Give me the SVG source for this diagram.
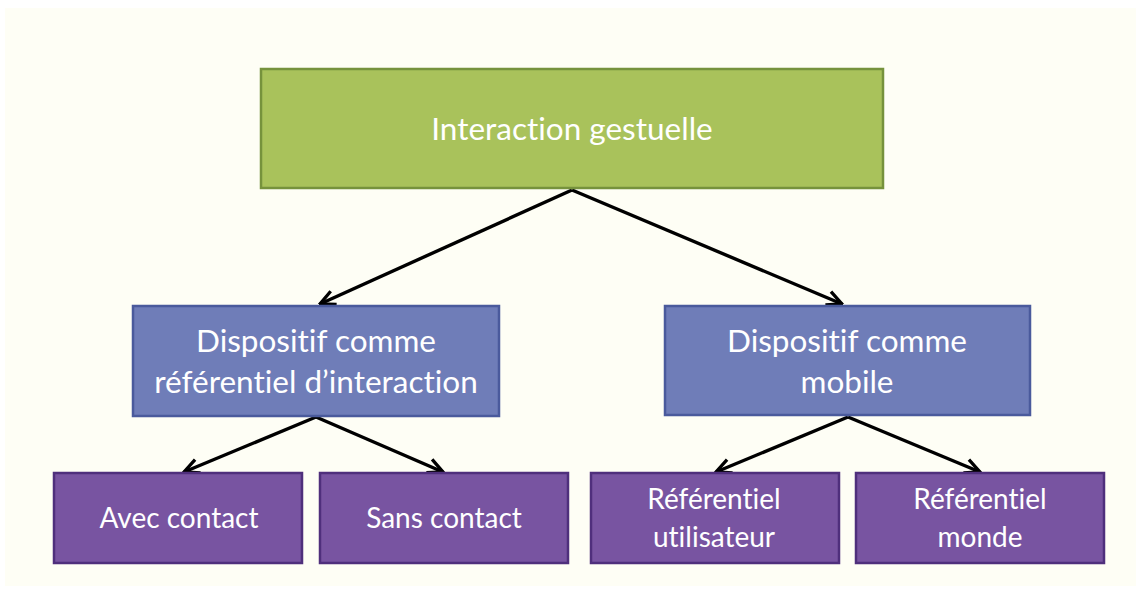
<svg xmlns="http://www.w3.org/2000/svg" width="1136" height="590" viewBox="0 0 1136 590">
<style>
.bg{fill:#FEFEF5}
.g{fill:#A9C25B;stroke:#76923C;stroke-width:2.5}
.b{fill:#6F7DB8;stroke:#4A5A9C;stroke-width:2.5}
.p{fill:#7854A1;stroke:#4F2F7C;stroke-width:2.5}
text{font-family:Lato,"Open Sans",sans-serif;fill:#FFFFFF;text-anchor:middle;font-variant-ligatures:none}
.t1{font-size:31.5px}
.t2{font-size:31.5px}
.t3{font-size:28px}
.c{stroke:#000;stroke-width:3.4;fill:none}
</style>
<defs>
<marker id="ah" viewBox="0 0 12 12" refX="11" refY="6" markerWidth="18" markerHeight="18" markerUnits="userSpaceOnUse" orient="auto">
<path d="M1,1.2 L11,6 L1,10.8" fill="none" stroke="#000" stroke-width="2.2"/>
</marker>
</defs>
<rect class="bg" x="5" y="8" width="1131" height="578"/>
<g id="connectors">
<line class="c" x1="572" y1="190" x2="320" y2="304" marker-end="url(#ah)"/>
<line class="c" x1="572" y1="190" x2="842" y2="304" marker-end="url(#ah)"/>
<line class="c" x1="316" y1="417" x2="184" y2="472" marker-end="url(#ah)"/>
<line class="c" x1="316" y1="417" x2="443" y2="472" marker-end="url(#ah)"/>
<line class="c" x1="848" y1="417" x2="716" y2="472" marker-end="url(#ah)"/>
<line class="c" x1="848" y1="417" x2="980" y2="472" marker-end="url(#ah)"/>
</g>
<g id="node-root">
<rect class="g" x="261" y="69" width="622" height="119"/>
<text class="t1" x="572" y="140">Interaction gestuelle</text>
</g>
<g id="node-referentiel">
<rect class="b" x="133" y="306" width="366" height="110"/>
<text class="t2" x="316" y="352">Dispositif comme</text>
<text class="t2" x="316" y="393">référentiel d’interaction</text>
</g>
<g id="node-mobile">
<rect class="b" x="665" y="306" width="365" height="109"/>
<text class="t2" x="847" y="352">Dispositif comme</text>
<text class="t2" x="847" y="393">mobile</text>
</g>
<g id="node-avec">
<rect class="p" x="54" y="473" width="248" height="90"/>
<text class="t3" x="179" y="528">Avec contact</text>
</g>
<g id="node-sans">
<rect class="p" x="320" y="473" width="248" height="90"/>
<text class="t3" x="444" y="528">Sans contact</text>
</g>
<g id="node-utilisateur">
<rect class="p" x="591" y="473" width="248" height="90"/>
<text class="t3" x="714" y="509">Référentiel</text>
<text class="t3" x="714" y="547">utilisateur</text>
</g>
<g id="node-monde">
<rect class="p" x="856" y="473" width="248" height="90"/>
<text class="t3" x="980" y="509">Référentiel</text>
<text class="t3" x="980" y="547">monde</text>
</g>
</svg>
